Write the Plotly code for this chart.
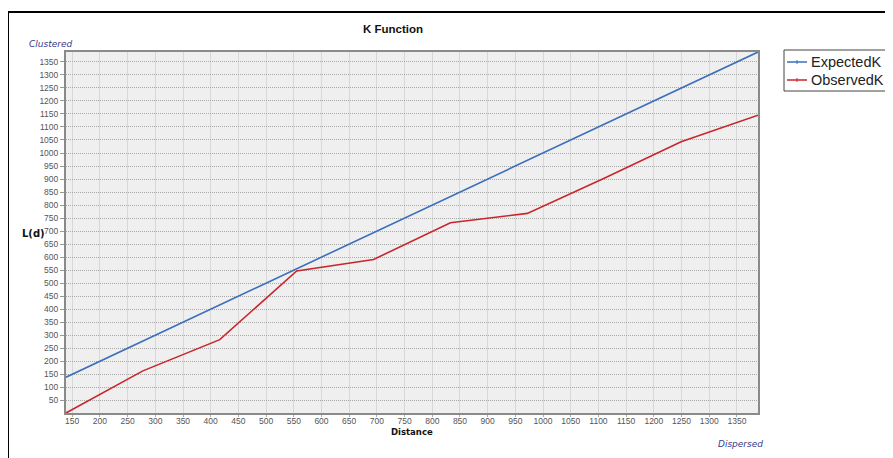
import plotly.graph_objects as go

# ---- data ----
distance = [138.8, 277.6, 416.4, 555.2, 694.0, 832.8, 971.6, 1110.4, 1249.2, 1388.0]
expected_k = [138.8, 277.6, 416.4, 555.2, 694.0, 832.8, 971.6, 1110.4, 1249.2, 1388.0]
observed_k = [1.2, 163, 283, 547, 591, 732, 768, 903, 1043, 1145]
series_names = ["ExpectedK", "ObservedK"]
series_colors = ["#3a6fba", "#c9262c"]
x_ticks = list(range(150, 1351, 50))
y_ticks = list(range(50, 1351, 50))

# page body has an 8px margin: figure coords = window coords - 8
OFF = 8
W, H = 893 - OFF, 458 - OFF
PL, PR, PT, PB = 66, 758, 52, 413  # plot area in window pixels
L, R, T, B = PL - OFF, W - (PR - OFF), PT - OFF, H - (PB - OFF)
PW, PH = W - L - R, H - T - B


def px(x):
    return (x - OFF - L) / PW


def py(y):
    return (H - B - (y - OFF)) / PH


fig = go.Figure()
for name, ys, col in zip(series_names, [expected_k, observed_k], series_colors):
    fig.add_trace(go.Scatter(x=distance, y=ys, mode="lines", name=name,
                             line=dict(color=col, width=1.6), showlegend=False))

tickfont = dict(family="Liberation Sans", size=8.5, color="#555555")
fig.update_xaxes(range=[distance[0], distance[-1]], tickvals=x_ticks,
                 showgrid=True, gridcolor="#d8d8d8", gridwidth=1,
                 showline=True, linecolor="#8a8a8a", linewidth=2, mirror=True,
                 ticks="outside", ticklen=2, tickcolor="#aaaaaa",
                 ticklabelstandoff=-3,
                 tickfont=tickfont, zeroline=False)
fig.update_yaxes(range=[observed_k[0], distance[-1]], tickvals=y_ticks,
                 showgrid=True, gridcolor="#a8a8a8", gridwidth=1, griddash="1px,1px",
                 showline=True, linecolor="#8a8a8a", linewidth=2, mirror=True,
                 ticks="outside", ticklen=4, tickcolor="#999999",
                 tickfont=tickfont, zeroline=False)

ann = [
    dict(text="<b>K Function</b>", x=px(393), y=py(29),
         font=dict(family="Liberation Sans", size=11.5, color="#111111")),
    dict(text="<b>Distance</b>", x=px(411.5), y=py(432),
         font=dict(family="DejaVu Sans", size=8.5, color="#111111")),
    dict(text="<b>L(d)</b>", x=px(33), y=py(233),
         font=dict(family="DejaVu Sans", size=10, color="#111111")),
    dict(text="<i>Clustered</i>", x=px(50), y=py(44),
         font=dict(family="DejaVu Sans", size=9, color="#3a3a8c")),
    dict(text="<i>Dispersed</i>", x=px(740), y=py(444),
         font=dict(family="DejaVu Sans", size=9, color="#3a3a8c")),
]
shapes = [
    # outer frame
    dict(type="rect", xref="paper", yref="paper", x0=px(8), y0=py(475), x1=px(910), y1=py(12),
         line=dict(color="#000000", width=2), layer="below"),
    # legend box
    dict(type="rect", xref="paper", yref="paper", x0=px(784), y0=py(91), x1=px(892), y1=py(50),
         line=dict(color="#444444", width=1), fillcolor="white"),
]
for i, (name, col) in enumerate(zip(series_names, series_colors)):
    yc = 62 + i * 18
    shapes.append(dict(type="line", xref="paper", yref="paper", x0=px(787), x1=px(807),
                       y0=py(yc), y1=py(yc), line=dict(color=col, width=1.5)))
    shapes.append(dict(type="line", xref="paper", yref="paper", x0=px(797), x1=px(797),
                       y0=py(yc - 2), y1=py(yc + 2), line=dict(color=col, width=1)))
    ann.append(dict(text=name, x=px(809), y=py(yc), xanchor="left",
                    font=dict(family="Liberation Sans", size=14.5, color="#222222")))

for a in ann:
    a.update(xref="paper", yref="paper", showarrow=False)
    a.setdefault("xanchor", "center")
    a.setdefault("yanchor", "middle")

fig.update_layout(width=W, height=H, margin=dict(l=L, r=R, t=T, b=B),
                  paper_bgcolor="white", plot_bgcolor="#efefef",
                  annotations=ann, shapes=shapes, showlegend=False)
fig.write_html("out.html")
